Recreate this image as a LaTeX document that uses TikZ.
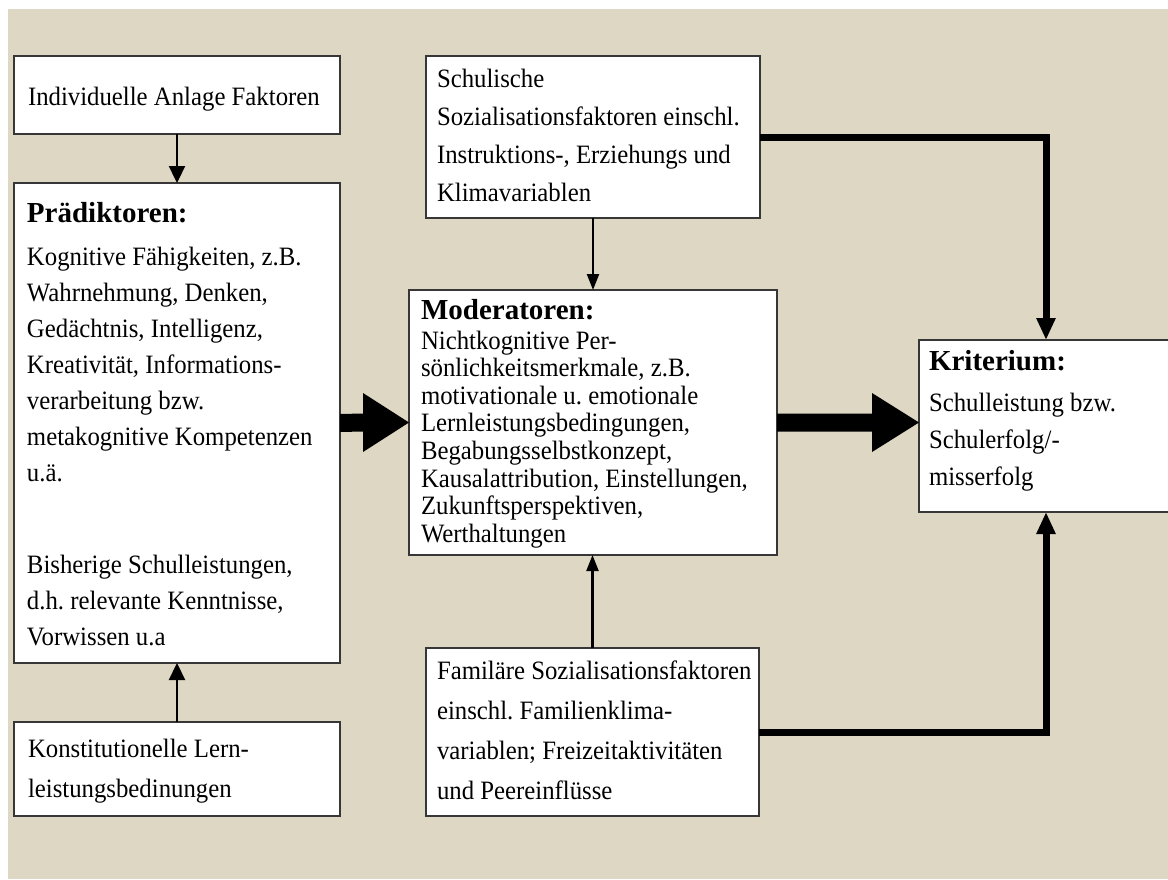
\documentclass[tikz,border=0pt]{standalone}
\usepackage{fontspec}
\setmainfont{Liberation Serif}[FakeStretch=0.935]
\newfontfamily\headfont{Liberation Serif}
\usetikzlibrary{arrows.meta,calc}
\definecolor{bgbeige}{RGB}{221,215,196}
\definecolor{boxline}{RGB}{55,55,55}
\frenchspacing
\begin{document}
\begin{tikzpicture}[x=1pt,y=-1pt,
  box/.style={draw=boxline, line width=1.3pt, fill=white, inner sep=0pt, outer sep=0pt, anchor=north west},
  body/.style={inner sep=0pt, outer sep=0pt, anchor=north west, align=left},
  head/.style={inner sep=0pt, outer sep=0pt, anchor=base west, font=\headfont\fontsize{29}{34}\selectfont\bfseries},
  one/.style={inner sep=0pt, outer sep=0pt, anchor=base west, font=\fontsize{26.5}{30}\selectfont},
  thinarr/.style={line width=2.3pt, -{Triangle[length=17pt,width=16pt]}},
  smallarr/.style={line width=2.3pt, -{Triangle[length=16pt,width=12pt]}},
  thickarr/.style={line width=7pt, line join=miter, -{Triangle[length=22pt,width=18pt]}},
  fatarr/.style={fill=black}
]
\useasboundingbox (0,0) rectangle (1168,879);
\clip (0,0) rectangle (1168,879);
\fill[white] (0,0) rectangle (1168,879);
\fill[bgbeige] (8,9) rectangle (1168,879);

% boxes
\node[box, minimum width=326pt, minimum height=78pt]  (anl)   at (14,56)  {};
\node[box, minimum width=326pt, minimum height=480pt] (pred)  at (14,183) {};
\node[box, minimum width=326pt, minimum height=94pt]  (konst) at (14,722) {};
\node[box, minimum width=334pt, minimum height=162pt] (schul) at (426,56) {};
\node[box, minimum width=368pt, minimum height=265pt] (mod)   at (409,290) {};
\node[box, minimum width=333pt, minimum height=168pt] (fam)   at (426,648) {};
\node[box, minimum width=254pt, minimum height=172pt] (krit)  at (919,340) {};

% texts
\node[one] (anlT) at (28,105) {Individuelle Anlage Faktoren};

\node[head] (predH) at (27,222) {Prädiktoren:};
\node[body, font=\fontsize{26.5}{36}\selectfont] (predT) at (27,239.8)
  {\strut Kognitive Fähigkeiten, z.B.\\Wahrnehmung, Denken,\\Gedächtnis, Intelligenz,\\Kreativität, Informations-\\verarbeitung bzw.\\metakognitive Kompetenzen\\u.ä.\\[56pt]Bisherige Schulleistungen,\\d.h. relevante Kenntnisse,\\Vorwissen u.a};

\node[body, font=\fontsize{26.5}{40}\selectfont] (konstT) at (28,729)
  {\strut Konstitutionelle Lern-\\leistungsbedinungen};

\node[body, font=\fontsize{26.5}{38}\selectfont] (schulT) at (437,60.4)
  {\strut Schulische\\Sozialisationsfaktoren einschl.\\Instruktions-, Erziehungs und\\Klimavariablen};

\node[head] (modH) at (421,319) {Moderatoren:};
\node[body, font=\fontsize{26.5}{27.6}\selectfont] (modT) at (421,329.7)
  {\strut Nichtkognitive Per-\\sönlichkeitsmerkmale, z.B.\\motivationale u. emotionale\\Lernleistungsbedingungen,\\Begabungsselbstkonzept,\\Kausalattribution, Einstellungen,\\Zukunftsperspektiven,\\Werthaltungen};

\node[body, font=\fontsize{26.5}{40}\selectfont] (famT) at (437,651)
  {\strut Familäre Sozialisationsfaktoren\\einschl. Familienklima-\\variablen; Freizeitaktivitäten\\und Peereinflüsse};

\node[head] (kritH) at (929,370) {Kriterium:};
\node[body, font=\fontsize{26.5}{37}\selectfont] (kritT) at (929,385.1)
  {\strut Schulleistung bzw.\\Schulerfolg/-\\misserfolg};

% connectors
\draw[thinarr] (anl) -- (pred);
\draw[thinarr] (konst) -- (pred);
\draw[smallarr] (schul) -- (mod);
\draw[smallarr] (fam.north) -- (fam.north |- mod.south);
\draw[thickarr] (schul.east) -| (krit.north);
\draw[thickarr] (fam.east) -| (krit.south);

% fat arrows
\fill[fatarr] ($(pred.east)+(0,-9)$) -- ($(mod.west)+(-46,-9)$) -- ($(mod.west)+(-46,-29.5)$)
  -- (mod.west) -- ($(mod.west)+(-46,29.5)$) -- ($(mod.west)+(-46,9)$) -- ($(pred.east)+(0,9)$) -- cycle;
\coordinate (kw) at (mod.east -| krit.west);
\fill[fatarr] ($(mod.east)+(0,-9)$) -- ($(kw)+(-47,-9)$) -- ($(kw)+(-47,-29.5)$)
  -- (kw) -- ($(kw)+(-47,29.5)$) -- ($(kw)+(-47,9)$) -- ($(mod.east)+(0,9)$) -- cycle;
\end{tikzpicture}
\end{document}
